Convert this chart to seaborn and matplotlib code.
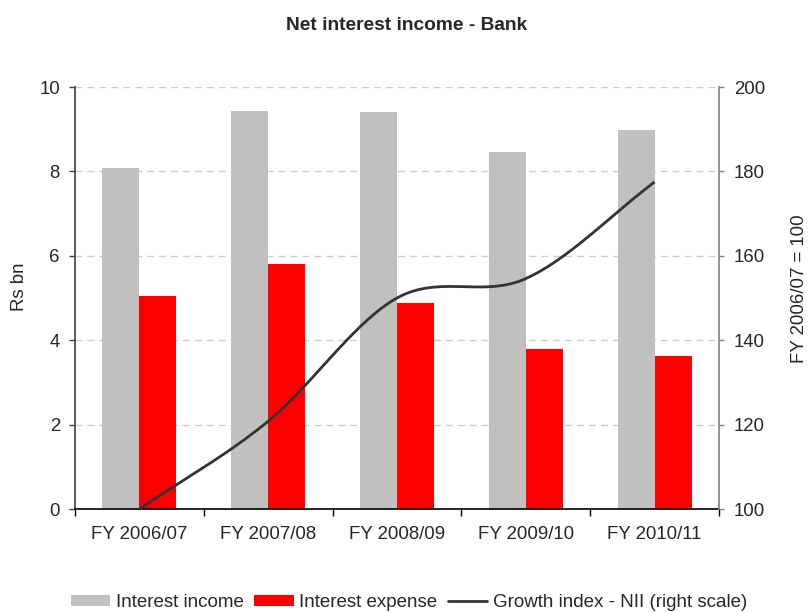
import numpy as np
import pandas as pd
import matplotlib
matplotlib.use("Agg")
import matplotlib.pyplot as plt
from matplotlib.patches import Patch
from matplotlib.lines import Line2D
from matplotlib.ticker import FixedLocator, NullFormatter
import seaborn as sns

# --- data -----------------------------------------------------------------
years = ["FY 2006/07", "FY 2007/08", "FY 2008/09", "FY 2009/10", "FY 2010/11"]
interest_income = [8.07, 9.43, 9.40, 8.45, 8.97]      # Rs bn
interest_expense = [5.05, 5.80, 4.87, 3.78, 3.63]     # Rs bn
nii_index = [100.0, 120.8, 150.0, 154.6, 177.5]        # FY 2006/07 = 100
series_names = ["Interest income", "Interest expense"]
line_name = "Growth index - NII (right scale)"

left_ticks = [0, 2, 4, 6, 8, 10]
right_ticks = [100, 120, 140, 160, 180, 200]

# --- style ----------------------------------------------------------------
sns.set_theme(style="white")
plt.rcParams["font.family"] = ["Liberation Sans", "DejaVu Sans"]
plt.rcParams["lines.scale_dashes"] = False
text_color = "#262626"

GRAY = "#C0C0C0"
RED = "#FF0000"
LINE = "#333333"

df = pd.DataFrame({
    "year": years * 2,
    "series": [series_names[0]] * len(years) + [series_names[1]] * len(years),
    "value": interest_income + interest_expense,
})

fig = plt.figure(figsize=(8.09, 6.12), dpi=100)
W, H = 809, 612
ax = fig.add_axes([75 / W, 1 - 509 / H, (719 - 75) / W, (509 - 87) / H])

sns.barplot(data=df, x="year", y="value", hue="series", order=years,
            hue_order=series_names, palette=[GRAY, RED], width=0.575,
            gap=0, saturation=1, dodge=True, ax=ax, legend=False,
            linewidth=0, errorbar=None)

ax.set_xlim(-0.5, len(years) - 0.5)
ax.set_ylim(0, 10)
ax.set_yticks(left_ticks)
ax.set_yticklabels([str(t) for t in left_ticks])
ax.set_xlabel("")
ax.set_ylabel("")
ax.set_axisbelow(True)
for t in left_ticks[1:]:
    ax.axhline(t, color="#CDCDCD", lw=1.0, ls=(0, (5, 3.6)), zorder=0)

# category boundary ticks on the x axis
ax.xaxis.set_minor_locator(FixedLocator(np.arange(-0.5, len(years), 1.0)))
ax.xaxis.set_minor_formatter(NullFormatter())
ax.tick_params(axis="x", which="minor", length=5, width=1, color="#000000",
               direction="out", bottom=True)
ax.tick_params(axis="x", which="major", length=0, pad=12, labelsize=13.4,
               labelcolor=text_color)
ax.tick_params(axis="y", which="major", length=4.3, width=1, color="#404040",
               direction="out", left=True, pad=6.5, labelsize=13.4,
               labelcolor=text_color)

for side in ["top", "right"]:
    ax.spines[side].set_visible(False)
ax.spines["left"].set_color("#404040")
ax.spines["left"].set_linewidth(1.2)
ax.spines["bottom"].set_color("#000000")
ax.spines["bottom"].set_linewidth(1.2)

# --- smoothed growth index on the right scale ---------------------------
ax2 = ax.twinx()
ax2.set_ylim(100, 200)
ax2.set_yticks(right_ticks)
ax2.set_yticklabels([str(t) for t in right_ticks])

xs = np.arange(len(nii_index), dtype=float)
ys = np.asarray(nii_index, dtype=float)
# Catmull-Rom style bezier smoothing through the yearly points
px = np.concatenate([[2 * xs[0] - xs[1]], xs, [2 * xs[-1] - xs[-2]]])
py = np.concatenate([[2 * ys[0] - ys[1]], ys, [2 * ys[-1] - ys[-2]]])
cx, cy = [], []
t = np.linspace(0, 1, 40)
for i in range(1, len(px) - 2):
    p0x, p1x, p2x, p3x = px[i - 1], px[i], px[i + 1], px[i + 2]
    p0y, p1y, p2y, p3y = py[i - 1], py[i], py[i + 1], py[i + 2]
    b1x, b1y = p1x + (p2x - p0x) / 6, p1y + (p2y - p0y) / 6
    b2x, b2y = p2x - (p3x - p1x) / 6, p2y - (p3y - p1y) / 6
    bx = (1 - t) ** 3 * p1x + 3 * (1 - t) ** 2 * t * b1x + 3 * (1 - t) * t ** 2 * b2x + t ** 3 * p2x
    by = (1 - t) ** 3 * p1y + 3 * (1 - t) ** 2 * t * b1y + 3 * (1 - t) * t ** 2 * b2y + t ** 3 * p2y
    cx.extend(bx)
    cy.extend(by)
ax2.plot(cx, cy, color=LINE, lw=2.0, solid_capstyle="butt", clip_on=False)

ax2.tick_params(axis="y", length=3.8, width=1, color="#808080",
                direction="out", pad=7, labelsize=13.4, labelcolor=text_color)
for side in ["top", "left", "bottom"]:
    ax2.spines[side].set_visible(False)
ax2.spines["right"].set_color("#808080")
ax2.spines["right"].set_linewidth(1.2)
ax2.grid(False)

# --- titles and axis labels ----------------------------------------------
fig.text(407 / W, 1 - 25 / H, "Net interest income - Bank", ha="center",
         va="center", fontsize=13.8, fontweight="bold", color=text_color)
fig.text(19 / W, 1 - 287 / H, "Rs bn", rotation=90, ha="center",
         va="center", fontsize=13.4, color=text_color)
fig.text(800 / W, 1 - 289 / H, "FY 2006/07 = 100", rotation=90,
         ha="center", va="center", fontsize=13.4, color=text_color)

# --- legend ---------------------------------------------------------------
handles = [Patch(facecolor=GRAY, edgecolor="none", label=series_names[0]),
           Patch(facecolor=RED, edgecolor="none", label=series_names[1]),
           Line2D([], [], color=LINE, lw=2.0, label=line_name)]
fig.legend(handles=handles, loc="lower center", ncol=3,
           bbox_to_anchor=(409 / W, 1 / H), frameon=False, fontsize=13.5,
           handlelength=2.1, handleheight=0.57, handletextpad=0.3,
           columnspacing=0.55, borderpad=0, borderaxespad=0,
           labelcolor=text_color)

fig.savefig("out.png", dpi=100)
